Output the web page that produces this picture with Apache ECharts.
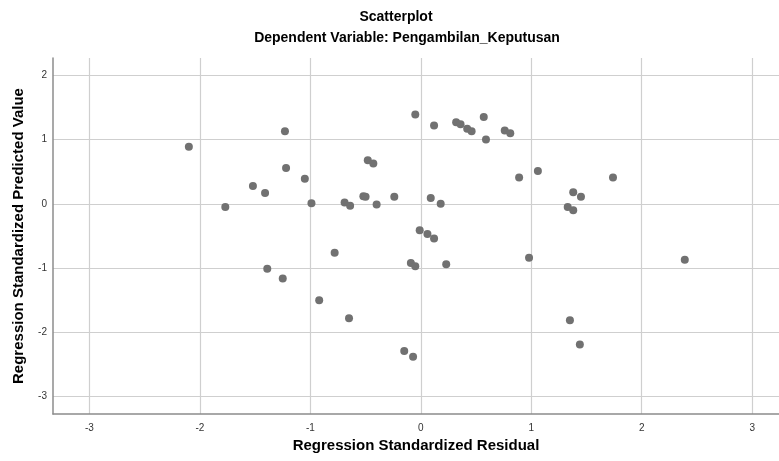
<!DOCTYPE html>
<html>
<head>
<meta charset="utf-8">
<script src="https://cdn.jsdelivr.net/npm/echarts@6/dist/echarts.min.js"></script>
<style>
html,body{margin:0;padding:0;background:#fff;}
#chart{width:779px;height:461px;}
</style>
</head>
<body>
<div id="chart"></div>
<script>
// Regression standardized residual (x) and predicted value (y)
var residual = [
  -2.10, -1.23, -1.22, -1.52, -1.41, -1.77, -1.39, -1.25, -1.05, -0.99,
  -0.69, -0.64, -0.52, -0.50, -0.40, -0.48, -0.43, -0.24, -0.05, 0.12,
  0.09, 0.18, -0.01, 0.06, 0.12, 0.32, 0.36, 0.42, 0.46, 0.57,
  0.59, 0.76, 0.81, 0.89, 1.06, -0.78, -0.09, -0.05, 0.23, 0.98,
  -0.92, -0.65, -0.15, -0.07, 1.74, 1.38, 1.45, 1.33, 1.38, 2.39,
  1.35, 1.44
];
var predicted = [
  0.89, 1.13, 0.56, 0.28, 0.17, -0.05, -1.01, -1.16, 0.39, 0.01,
  0.02, -0.03, 0.12, 0.11, -0.01, 0.68, 0.63, 0.11, 1.39, 1.22,
  0.09, 0.00, -0.41, -0.47, -0.54, 1.27, 1.24, 1.17, 1.13, 1.35,
  1.00, 1.14, 1.10, 0.41, 0.51, -0.76, -0.92, -0.97, -0.94, -0.84,
  -1.50, -1.78, -2.29, -2.38, 0.41, 0.18, 0.11, -0.05, -0.10, -0.87,
  -1.81, -2.19
];
var titleText = 'Scatterplot';
var subtitleText = 'Dependent Variable: Pengambilan_Keputusan';
var xName = 'Regression Standardized Residual';
var yName = 'Regression Standardized Predicted Value';

var points = residual.map(function (x, i) { return [x, predicted[i]]; });
var FONT = "'Liberation Sans', Arial, sans-serif";

var chart = echarts.init(document.getElementById('chart'), null, {renderer: 'canvas'});
chart.setOption({
  animation: false,
  backgroundColor: '#ffffff',
  graphic: [
    {type: 'text', x: 396, y: 17, style: {text: titleText, font: "bold 14px " + FONT, fill: '#000',
      align: 'center', verticalAlign: 'middle', textAlign: 'center', textVerticalAlign: 'middle'}},
    {type: 'text', x: 407, y: 38, style: {text: subtitleText, font: "bold 14px " + FONT, fill: '#000',
      align: 'center', verticalAlign: 'middle', textAlign: 'center', textVerticalAlign: 'middle'}}
  ],
  grid: {left: 53, right: 0, top: 58, bottom: 47, containLabel: false},
  xAxis: {
    type: 'value', min: -3.33, max: 3.243,
    name: xName, nameLocation: 'middle', nameGap: 20,
    nameTextStyle: {fontFamily: FONT, fontWeight: 'bold', fontSize: 15, color: '#000'},
    axisLine: {show: true, onZero: false, lineStyle: {color: '#8c8c8c', width: 1.5}},
    axisTick: {show: false},
    axisLabel: {showMinLabel: false, showMaxLabel: false, fontFamily: FONT, fontSize: 10, color: '#333', margin: 9},
    splitLine: {show: true, showMinLine: false, showMaxLine: false, lineStyle: {color: '#cfcfcf', width: 1.2}}
  },
  yAxis: {
    type: 'value', min: -3.27, max: 2.27,
    name: yName, nameLocation: 'middle', nameGap: 27, nameRotate: 90,
    nameTextStyle: {fontFamily: FONT, fontWeight: 'bold', fontSize: 15, color: '#000'},
    axisLine: {show: true, onZero: false, lineStyle: {color: '#8c8c8c', width: 1.5}},
    axisTick: {show: false},
    axisLabel: {showMinLabel: false, showMaxLabel: false, fontFamily: FONT, fontSize: 10, color: '#333', margin: 6},
    splitLine: {show: true, showMinLine: false, showMaxLine: false, lineStyle: {color: '#cfcfcf', width: 1.2}}
  },
  series: [{
    type: 'scatter',
    data: points,
    symbol: 'circle',
    symbolSize: 8,
    itemStyle: {color: '#717171', opacity: 1},
    emphasis: {disabled: true}
  }]
});
</script>
</body>
</html>
